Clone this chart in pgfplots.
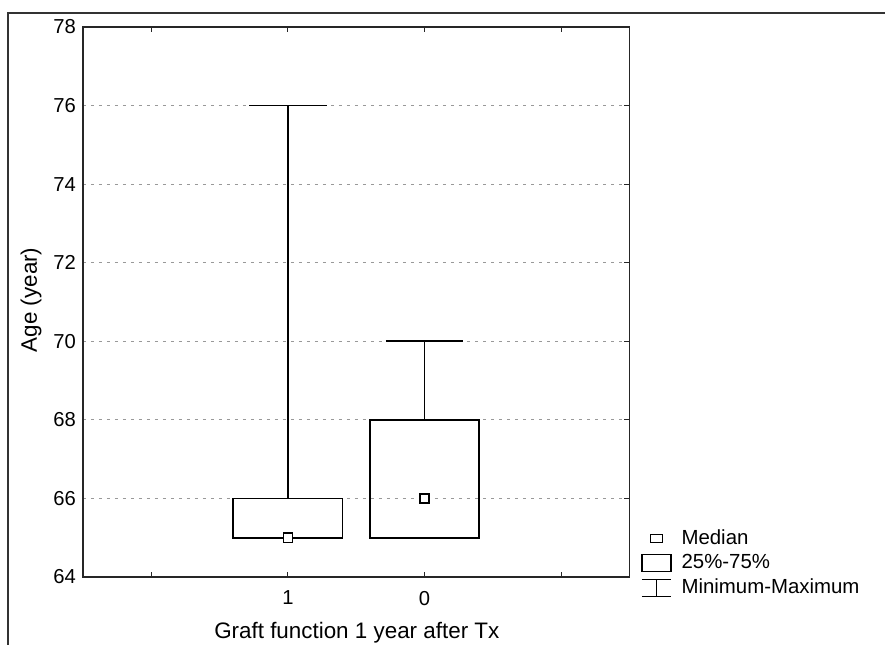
\documentclass[border=0pt]{standalone}
\usepackage{fontspec}
\setmainfont{Liberation Sans}
\usepackage{pgfplots}
\pgfplotsset{compat=1.18}
\begin{document}
\begin{tikzpicture}
\path[use as bounding box] (-41.5pt,-33.5pt) rectangle (401pt,288.5pt);
\draw[line width=0.65pt, black!80] (-37.5pt,-45pt) rectangle (410pt,282pt);
\begin{axis}[
  at={(0pt,0pt)}, anchor=south west,
  scale only axis, width=273.25pt, height=275pt,
  xmin=0.5, xmax=4.5, ymin=64, ymax=78,
  xtick={1,2,3,4}, xticklabels={,1,0,},
  ytick={64,66,...,78},
  tick align=inside, major tick length=2.5pt,
  xtick pos=both, ytick pos=right, yticklabel pos=left,
  ymajorgrids,
  grid style={black!40, line width=0.6pt, dash pattern=on 1.3pt off 2.7pt},
  axis line style={line width=0.55pt, black!85},
  tick style={line width=0.55pt, black!85},
  font=\fontsize{10.1}{12}\selectfont,
  /pgf/number format/assume math mode=true,
  xticklabel style={yshift=-3.5pt},
  xlabel={Graft function 1 year after Tx},
  ylabel={Age (year)},
  every axis x label/.style={at={(axis description cs:0.501,-0.102)}, anchor=center, font=\fontsize{11.2}{13}\selectfont},
  every axis y label/.style={at={(axis description cs:-0.095,0.504)}, rotate=90, anchor=center, font=\fontsize{11.2}{13}\selectfont},
  legend style={draw=none, fill=none, at={(axis description cs:1.021,0.025)}, anchor=west,
    inner sep=0pt, row sep=2.6pt, nodes={inner sep=0.5pt}, font=\fontsize{10.2}{12}\selectfont},
  legend cell align=left,
  /tikz/every odd column/.append style={column sep=4.5pt},
]
% group "1": box 25%-75% (65-66), min 65, max 76
\addplot[forget plot, black, line width=0.8pt, line join=miter, mark=none]
  coordinates {(1.6,65) (2.4,65) (2.4,66) (1.6,66) (1.6,65) (2.4,65)};
\addplot[forget plot, black, line width=0.8pt, mark=none] coordinates {(2,66) (2,76)};
\addplot[forget plot, black, line width=0.8pt, mark=none] coordinates {(1.7175,76) (2.2825,76)};
% group "0": box 25%-75% (65-68), min 65, max 70
\addplot[forget plot, black, line width=0.8pt, line join=miter, mark=none]
  coordinates {(2.6,65) (3.4,65) (3.4,68) (2.6,68) (2.6,65) (3.4,65)};
\addplot[forget plot, black, line width=0.8pt, mark=none] coordinates {(3,68) (3,70)};
\addplot[forget plot, black, line width=0.8pt, mark=none] coordinates {(2.7175,70) (3.2825,70)};
% medians
\addplot[forget plot, only marks, mark=square*, mark size=2.3pt,
  mark options={fill=white, draw=black, line width=0.7pt}] coordinates {(2,65) (3,66)};

\addlegendimage{legend image code/.code={
  \path[draw=none] (0pt,-4.2pt) rectangle (14.5pt,4.2pt);
  \draw[black, line width=0.6pt, fill=white] (4.25pt,-2pt) rectangle (10.25pt,2pt);}}
\addlegendentry{Median}
\addlegendimage{legend image code/.code={
  \draw[black, line width=0.6pt] (0pt,-4.2pt) rectangle (14.5pt,4.2pt);}}
\addlegendentry{25\%-75\%}
\addlegendimage{legend image code/.code={
  \draw[black, line width=0.6pt] (0pt,4.2pt) -- (14.5pt,4.2pt)
     (0pt,-4.2pt) -- (14.5pt,-4.2pt) (7.25pt,4.2pt) -- (7.25pt,-4.2pt);}}
\addlegendentry{Minimum-Maximum}
\end{axis}
\end{tikzpicture}
\end{document}
